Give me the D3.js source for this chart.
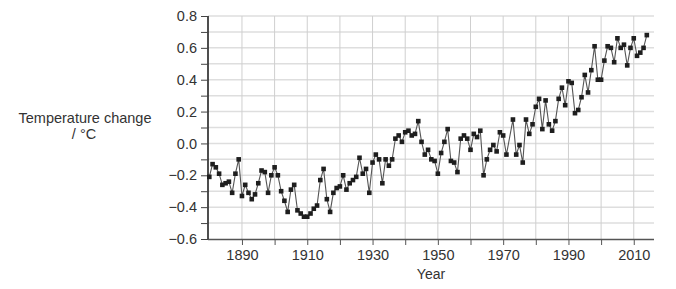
<!DOCTYPE html>
<html>
<head>
<meta charset="utf-8">
<script src="https://cdn.jsdelivr.net/npm/d3@7"></script>
<style>
  html, body { margin: 0; padding: 0; background: #fff; }
  svg { display: block; }
  text { font-family: "Liberation Sans", Arial, sans-serif; fill: #333; }
</style>
</head>
<body>
<svg id="chart" width="676" height="289"></svg>
<script>
// Years shown (no marker visible for 1972 in the reference)
const years = [
  1880,1881,1882,1883,1884,1885,1886,1887,1888,1889,
  1890,1891,1892,1893,1894,1895,1896,1897,1898,1899,
  1900,1901,1902,1903,1904,1905,1906,1907,1908,1909,
  1910,1911,1912,1913,1914,1915,1916,1917,1918,1919,
  1920,1921,1922,1923,1924,1925,1926,1927,1928,1929,
  1930,1931,1932,1933,1934,1935,1936,1937,1938,1939,
  1940,1941,1942,1943,1944,1945,1946,1947,1948,1949,
  1950,1951,1952,1953,1954,1955,1956,1957,1958,1959,
  1960,1961,1962,1963,1964,1965,1966,1967,1968,1969,
  1970,1971,1973,1974,1975,1976,1977,1978,1979,
  1980,1981,1982,1983,1984,1985,1986,1987,1988,1989,
  1990,1991,1992,1993,1994,1995,1996,1997,1998,1999,
  2000,2001,2002,2003,2004,2005,2006,2007,2008,2009,
  2010,2011,2012,2013,2014
];
// Temperature change / °C
const tempChange = [
  -0.21,-0.13,-0.15,-0.19,-0.26,-0.25,-0.24,-0.31,-0.19,-0.10,
  -0.33,-0.26,-0.31,-0.35,-0.32,-0.25,-0.17,-0.18,-0.31,-0.20,
  -0.15,-0.20,-0.30,-0.36,-0.43,-0.29,-0.26,-0.42,-0.44,-0.46,
  -0.46,-0.44,-0.41,-0.39,-0.23,-0.16,-0.35,-0.43,-0.31,-0.28,
  -0.27,-0.20,-0.29,-0.25,-0.23,-0.21,-0.09,-0.19,-0.16,-0.31,
  -0.12,-0.07,-0.10,-0.25,-0.10,-0.14,-0.10,0.03,0.05,0.01,
  0.07,0.08,0.05,0.06,0.14,0.01,-0.07,-0.04,-0.10,-0.11,
  -0.19,-0.06,0.01,0.09,-0.11,-0.12,-0.18,0.03,0.05,0.03,
  -0.04,0.06,0.04,0.08,-0.20,-0.10,-0.04,-0.01,-0.05,0.07,
  0.05,-0.07,0.15,-0.07,-0.01,-0.12,0.15,0.06,0.12,
  0.23,0.28,0.09,0.27,0.12,0.08,0.14,0.28,0.35,0.24,
  0.39,0.38,0.19,0.21,0.29,0.43,0.32,0.46,0.61,0.40,
  0.40,0.52,0.61,0.60,0.51,0.66,0.60,0.62,0.49,0.60,
  0.66,0.55,0.57,0.60,0.68
];
const xTickYears = [1890,1900,1910,1920,1930,1940,1950,1960,1970,1980,1990,2000,2010];
const xLabelYears = [1890,1910,1930,1950,1970,1990,2010];
const yTicks = [-0.6,-0.5,-0.4,-0.3,-0.2,-0.1,0.0,0.1,0.2,0.3,0.4,0.5,0.6,0.7,0.8];
const yLabels = [-0.6,-0.4,-0.2,0.0,0.2,0.4,0.6,0.8];
const yTitle = ["Temperature change", "/ °C"];
const xTitle = "Year";

const svg = d3.select("#chart");
const pLeft = 208, pRight = 654, pTop = 16, pBottom = 239;

const x = d3.scaleLinear().domain([1879.6, 2016.2]).range([pLeft, pRight]);
const y = d3.scaleLinear().domain([-0.6, 0.8]).range([pBottom, pTop]);

const fmt = v => d3.format(".1f")(v).replace("-", "\u2212");

// horizontal grid
svg.append("g").selectAll("line").data(yTicks.filter(v => v > -0.6)).join("line")
  .attr("x1", pLeft).attr("x2", pRight)
  .attr("y1", d => y(d)).attr("y2", d => y(d))
  .attr("stroke", "#dedede").attr("stroke-width", 1.5);

// vertical grid
svg.append("g").selectAll("line").data(xTickYears).join("line")
  .attr("x1", d => x(d)).attr("x2", d => x(d))
  .attr("y1", pTop).attr("y2", pBottom)
  .attr("stroke", "#cfcfcf").attr("stroke-width", 1);

// x axis
const xAxis = d3.axisBottom(x).tickValues(xTickYears).tickSize(6).tickPadding(5)
  .tickFormat(d => xLabelYears.includes(d) ? String(d) : "");
const gx = svg.append("g").attr("transform", `translate(0,${pBottom})`).call(xAxis);
gx.select(".domain").attr("d", `M${pLeft},0.5H${pRight}`).attr("stroke", "#555").attr("stroke-width", 1.3);
gx.selectAll(".tick line").attr("stroke", "#555");
gx.selectAll(".tick text").attr("font-size", "14.5px").attr("fill", "#333")
  .style("font-family", "'Liberation Sans', Arial, sans-serif");

// y axis
const yAxis = d3.axisLeft(y).tickValues(yTicks).tickSize(7).tickPadding(4)
  .tickFormat(d => yLabels.some(v => Math.abs(v - d) < 1e-9) ? fmt(d) : "");
const gy = svg.append("g").attr("transform", `translate(${pLeft},0)`).call(yAxis);
gy.select(".domain").attr("d", `M0,${pTop}V${pBottom}`).attr("stroke", "#222").attr("stroke-width", 1.6);
gy.selectAll(".tick line").attr("stroke", "#444");
gy.selectAll(".tick text").attr("font-size", "14.5px").attr("fill", "#333")
  .style("font-family", "'Liberation Sans', Arial, sans-serif");

// line
const pts = years.map((yr, i) => ({ yr, v: tempChange[i] }));
svg.append("path").datum(pts)
  .attr("fill", "none").attr("stroke", "#555").attr("stroke-width", 1.1)
  .attr("d", d3.line().x(d => x(d.yr)).y(d => y(d.v)));

// markers
const ms = 4.6;
svg.append("g").selectAll("rect").data(pts).join("rect")
  .attr("x", d => x(d.yr) - ms / 2).attr("y", d => y(d.v) - ms / 2)
  .attr("width", ms).attr("height", ms).attr("fill", "#1e1e1e");

// titles
svg.append("text").attr("x", 85).attr("y", 123).attr("text-anchor", "middle")
  .attr("font-size", "14.5px").text(yTitle[0]);
svg.append("text").attr("x", 84).attr("y", 139).attr("text-anchor", "middle")
  .attr("font-size", "14.5px").text(yTitle[1]);
svg.append("text").attr("x", 431).attr("y", 279).attr("text-anchor", "middle")
  .attr("font-size", "14px").text(xTitle);
</script>
</body>
</html>
